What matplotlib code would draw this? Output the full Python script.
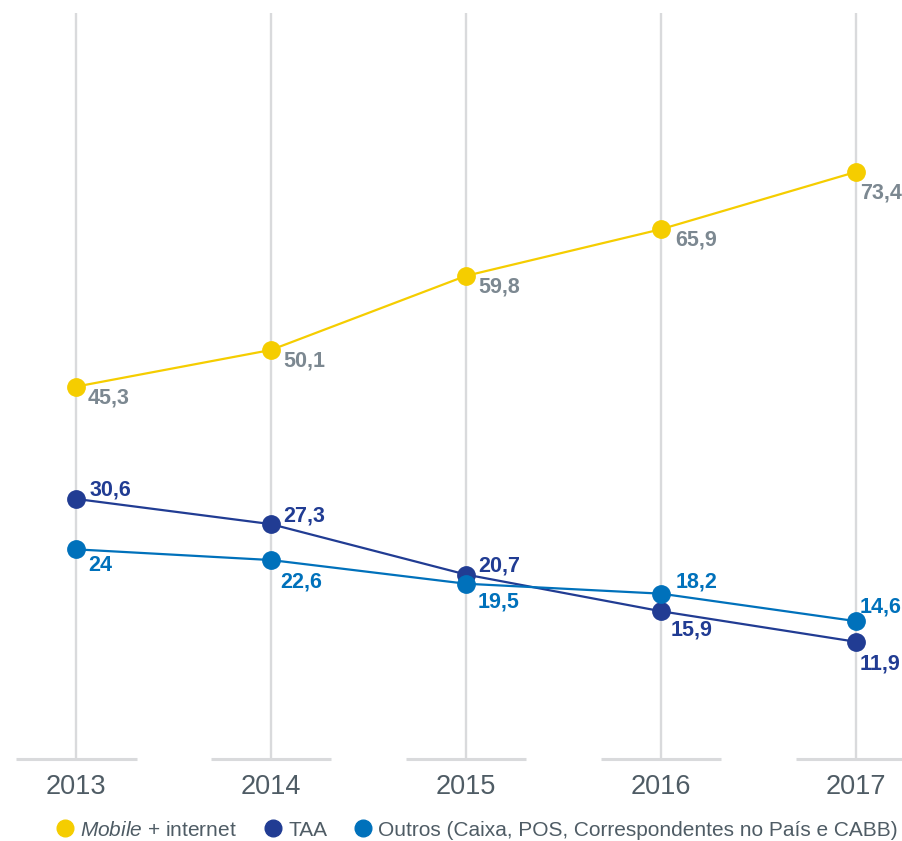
import numpy as np
import matplotlib
matplotlib.use("Agg")
import matplotlib.pyplot as plt
from matplotlib.lines import Line2D

# === Data ===
years = ["2013", "2014", "2015", "2016", "2017"]
mobile_internet = [45.3, 50.1, 59.8, 65.9, 73.4]
taa = [30.6, 27.3, 20.7, 15.9, 11.9]
outros = [24.0, 22.6, 19.5, 18.2, 14.6]

series_names = [r"$\mathit{Mobile}$ + internet", "TAA",
                "Outros (Caixa, POS, Correspondentes no País e CABB)"]

# === Style ===
plt.rcParams.update({
    "font.family": ["Liberation Sans", "DejaVu Sans"],
    "mathtext.fontset": "custom",
    "mathtext.it": "Liberation Sans:italic",
    "mathtext.rm": "Liberation Sans",
})

YELLOW = "#f5cd00"
NAVY = "#213c93"
BLUE = "#0071bb"
GRID = "#d9dadc"
TEXT = "#4f5c65"
LABEL_GRAY = "#7c8891"

fig = plt.figure(figsize=(9.03, 8.41), dpi=100)
ax = fig.add_axes([16 / 903, 1 - 759 / 841, 887 / 903, (759 - 13) / 841])

x = np.arange(len(years))
y_lo, y_hi = -3.44, 94.2
ax.set_xlim(-0.308, 4.241)
ax.set_ylim(y_lo, y_hi)

# vertical guides and short baseline pieces under each year
ax.vlines(x, y_lo, y_hi, color=GRID, lw=1.7, zorder=1)
ax.hlines([y_lo] * len(x), x - 0.31, x + 0.31, color=GRID, lw=2.2,
          clip_on=False, zorder=1)

# label offsets in pixels (dx, dy) per point, dy positive = up
offsets = {
    "mobile": [(12, -11), (12, -11), (12, -11), (14, -11), (4, -21)],
    "taa": [(13, 9), (12, 8), (12, 9), (10, -19), (4, -22)],
    "outros": [(12, -16), (9, -22), (12, -18), (15, 12), (4, 14)],
}

plot_spec = [
    ("mobile", mobile_internet, YELLOW, LABEL_GRAY),
    ("taa", taa, NAVY, NAVY),
    ("outros", outros, BLUE, BLUE),
]

for z, (key, vals, color, lab_color) in enumerate(plot_spec):
    ax.plot(x, vals, color=color, lw=1.6, marker="o", markersize=12.5,
            zorder=3 + z)
    for xi, v, (dx, dy) in zip(x, vals, offsets[key]):
        txt = f"{v:g}".replace(".", ",")
        ax.annotate(txt, (xi, v), xytext=(dx, dy), textcoords="offset pixels",
                    ha="left", va="center", fontsize=15.5, fontweight="bold",
                    color=lab_color, zorder=10, annotation_clip=False)

ax.set_xticks(x)
ax.set_xticklabels(years, fontsize=19.5, color=TEXT)
ax.tick_params(axis="x", length=0, pad=11)
ax.set_yticks([])
for s in ax.spines.values():
    s.set_visible(False)

# === Legend ===
handles = [Line2D([], [], ls="none", marker="o", markersize=12, color=c)
           for c in (YELLOW, NAVY, BLUE)]
leg = fig.legend(handles, series_names, loc="center", ncol=3,
                 bbox_to_anchor=(0.526, 1 - 830 / 841), frameon=False,
                 fontsize=15, handletextpad=0.15, columnspacing=1.1,
                 handlelength=1.2)
for t in leg.get_texts():
    t.set_color(TEXT)

fig.savefig("out.png", dpi=100)
